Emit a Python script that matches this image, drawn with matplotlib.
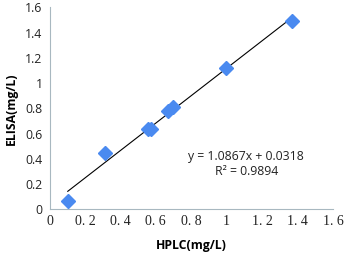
import matplotlib
matplotlib.use("Agg")
import matplotlib.pyplot as plt
import numpy as np

hplc = [0.103, 0.314, 0.554, 0.571, 0.667, 0.699, 0.999, 1.367]
elisa = [0.07, 0.45, 0.635, 0.64, 0.78, 0.81, 1.12, 1.49]
slope, intercept = 1.0867, 0.0318
xticks = [0, 0.2, 0.4, 0.6, 0.8, 1, 1.2, 1.4, 1.6]
xticklabels = ["0", "0. 2", "0. 4", "0. 6", "0. 8", "1", "1. 2", "1. 4", "1. 6"]
yticks = [0, 0.2, 0.4, 0.6, 0.8, 1, 1.2, 1.4, 1.6]
yticklabels = ["0", "0.2", "0.4", "0.6", "0.8", "1", "1.2", "1.4", "1.6"]

fig = plt.figure(figsize=(3.45, 2.57), dpi=100)
ax = fig.add_axes([0.1435, 0.185, 0.8215, 0.786])
ax.plot(hplc, elisa, linestyle="none", marker="D", markersize=7.5,
        color="#4a8af0", zorder=3)
lx = np.array([min(hplc), max(hplc)])
ax.plot(lx, slope * lx + intercept, color="black", linewidth=0.8, zorder=2)
ax.set_xlim(0, 1.6)
ax.set_ylim(0, 1.6)
ax.set_xticks(xticks)
ax.set_xticklabels(xticklabels, fontfamily="Liberation Serif", fontsize=10)
ax.set_yticks(yticks)
ax.set_yticklabels(yticklabels, fontfamily="Open Sans", fontsize=8.8)
ax.tick_params(length=0, pad=5, colors="#222222")
ax.tick_params(axis="x", pad=4)
for s in ["top", "right"]:
    ax.spines[s].set_visible(False)
for s in ["left", "bottom"]:
    ax.spines[s].set_color("#a8b8c0")
    ax.spines[s].set_linewidth(0.8)
ax.set_xlabel("HPLC(mg/L)", fontfamily="Open Sans", fontweight="bold", fontsize=8.8, labelpad=8)
ax.set_ylabel("ELISA(mg/L)", fontfamily="Open Sans", fontweight="bold", fontsize=8.8, labelpad=5)
ax.text(1.11, 0.36, "y = 1.0867x + 0.0318\nR² = 0.9894", ha="center", va="center",
        fontfamily="Open Sans", fontsize=8.8, linespacing=1.2, color="#222222")
fig.savefig("out.png", dpi=100)
